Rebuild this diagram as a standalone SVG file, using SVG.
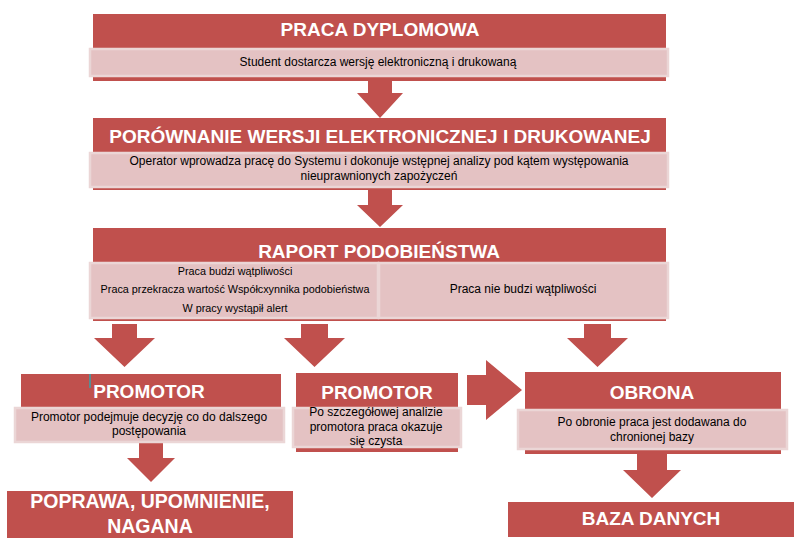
<svg xmlns="http://www.w3.org/2000/svg" width="803" height="550" viewBox="0 0 803 550">
<style>
.red{fill:#c0504d}
.pink{fill:#e4c2c3;stroke:#ebd6d6;stroke-width:2.5}
.arr{fill:#c0504d}
.t{font-family:"Liberation Sans",Arial,sans-serif;font-weight:bold;font-size:19px;fill:#ffffff;text-anchor:middle}
.s{font-family:"Liberation Sans",Arial,sans-serif;font-size:12px;fill:#000000;text-anchor:middle}
.xs{font-family:"Liberation Sans",Arial,sans-serif;font-size:10.8px;fill:#000000;text-anchor:middle}
</style>
<rect width="803" height="550" fill="#ffffff"/>
<g id="connectors">
<polygon class="arr" points="368,81 392,81 392,93 403,93 380,118 357,93 368,93"/>
<polygon class="arr" points="368,190 392,190 392,205 403,205 380,227 357,205 368,205"/>
<polygon class="arr" points="112,324 137,324 137,338 155,338 124.5,367 94,338 112,338"/>
<polygon class="arr" points="301,324 328,324 328,338 345,338 314.5,367 284,338 301,338"/>
<polygon class="arr" points="584,324 611,324 611,338 628,338 597.5,367 567,338 584,338"/>
<polygon class="arr" points="139,443 163,443 163,458 175,458 151,482 127,458 139,458"/>
<polygon class="arr" points="467,375 486,375 486,360 522,390 486,420 486,405 467,405"/>
<polygon class="arr" points="637,454 667,454 667,470 681,470 652,498 623,470 637,470"/>
</g>
<g id="praca-dyplomowa">
<rect class="red" x="93" y="14" width="573" height="67"/>
<rect class="pink" x="90" y="49" width="578" height="27"/>
<text class="t" x="380" y="36">PRACA DYPLOMOWA</text>
<text class="s" x="378" y="66">Student dostarcza wersję elektroniczną i drukowaną</text>
</g>
<g id="porownanie">
<rect class="red" x="93" y="118" width="573" height="72"/>
<rect class="pink" x="90" y="153" width="578" height="34"/>
<text class="t" x="380" y="143">PORÓWNANIE WERSJI ELEKTRONICZNEJ I DRUKOWANEJ</text>
<text class="s" x="379" y="165">Operator wprowadza pracę do Systemu i dokonuje wstępnej analizy pod kątem występowania</text>
<text class="s" x="379" y="180">nieuprawnionych zapożyczeń</text>
</g>
<g id="raport">
<rect class="red" x="93" y="228" width="573" height="93"/>
<rect class="pink" x="90" y="263" width="288" height="55"/>
<rect class="pink" x="379" y="263" width="289" height="55"/>
<text class="t" x="379" y="258">RAPORT PODOBIEŃSTWA</text>
<text class="xs" x="235" y="275">Praca budzi  wątpliwości</text>
<text class="xs" x="235" y="293">Praca przekracza wartość Współcxynnika podobieństwa</text>
<text class="xs" x="235" y="312">W pracy wystąpił alert</text>
<text class="s" x="523" y="293">Praca nie budzi wątpliwości</text>
</g>
<g id="promotor1">
<rect class="red" x="21" y="374" width="260" height="69"/>
<rect class="pink" x="15" y="408" width="269" height="34"/>
<text class="t" x="149" y="398">PROMOTOR</text>
<text class="s" x="149" y="421">Promotor podejmuje decyzję co do dalszego</text>
<text class="s" x="149" y="435">postępowania</text>
<line x1="90" y1="374" x2="90" y2="388" stroke="#3aa0aa" stroke-width="1.5"/>
</g>
<g id="promotor2">
<rect class="red" x="296" y="373" width="162" height="79"/>
<rect class="pink" x="293" y="408" width="168" height="39"/>
<text class="t" x="377" y="399">PROMOTOR</text>
<text class="s" x="376" y="416">Po szczegółowej analizie</text>
<text class="s" x="376" y="431">promotora praca okazuje</text>
<text class="s" x="376" y="445">się czysta</text>
</g>
<g id="obrona">
<rect class="red" x="525" y="372" width="256" height="82"/>
<rect class="pink" x="518" y="410" width="269" height="39"/>
<text class="t" x="652" y="399">OBRONA</text>
<text class="s" x="652" y="426">Po obronie praca jest dodawana do</text>
<text class="s" x="652" y="441">chronionej bazy</text>
</g>
<g id="poprawa">
<rect class="red" x="7" y="491" width="286" height="47"/>
<text class="t" x="150" y="508" style="font-size:19.5px">POPRAWA, UPOMNIENIE,</text>
<text class="t" x="150" y="533" style="font-size:19.5px">NAGANA</text>
</g>
<g id="baza-danych">
<rect class="red" x="508" y="502" width="286" height="35"/>
<text class="t" x="651" y="525">BAZA DANYCH</text>
</g>
</svg>
